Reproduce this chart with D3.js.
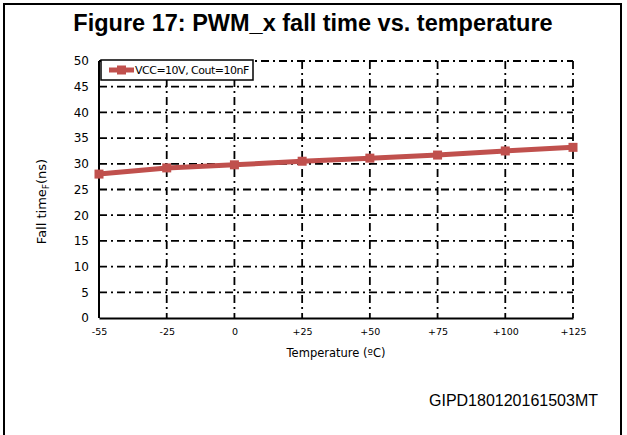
<!DOCTYPE html>
<html>
<head>
<meta charset="utf-8">
<script src="https://cdn.jsdelivr.net/npm/d3@7"></script>
<style>
  body { margin: 0; background: #fff; }
  text { fill: #000; }
</style>
</head>
<body>
<svg width="627" height="435"></svg>
<script>
var temps = ["-55", "-25", "0", "+25", "+50", "+75", "+100", "+125"];
var fallTime = [28.0, 29.2, 29.8, 30.5, 31.1, 31.7, 32.5, 33.2];
var yTicks = [0, 5, 10, 15, 20, 25, 30, 35, 40, 45, 50];
var seriesName = "VCC=10V, Cout=10nF";

var svg = d3.select("svg"),
    width = 627,
    height = 435,
    margin = {top: 61, right: 54, bottom: 117, left: 99},
    plotW = width - margin.left - margin.right,
    plotH = height - margin.top - margin.bottom;

// figure frame
svg.append("rect")
    .attr("x", 4).attr("y", 4)
    .attr("width", 617).attr("height", 440)
    .attr("fill", "none").attr("stroke", "#000").attr("stroke-width", 2);

svg.append("text")
    .attr("x", 313).attr("y", 31)
    .attr("text-anchor", "middle")
    .style("font", "bold 23.5px 'Liberation Sans', Arial, sans-serif")
    .text("Figure 17: PWM_x fall time vs. temperature");

var x = d3.scalePoint().domain(temps).range([0, plotW]);
var y = d3.scaleLinear().domain([0, 50]).range([plotH, 0]);

var g = svg.append("g").attr("transform", "translate(" + margin.left + "," + margin.top + ")");

var dash = "8,4,2,4";

// horizontal grid
g.append("g").selectAll("line")
    .data(yTicks.filter(function(d) { return d > 0; }))
    .enter().append("line")
    .attr("x1", 0).attr("x2", plotW)
    .attr("y1", function(d) { return y(d); })
    .attr("y2", function(d) { return y(d); })
    .attr("stroke", "#000").attr("stroke-width", 1.8)
    .attr("stroke-dasharray", dash);

// vertical grid
g.append("g").selectAll("line")
    .data(temps.slice(1))
    .enter().append("line")
    .attr("x1", function(d) { return x(d); })
    .attr("x2", function(d) { return x(d); })
    .attr("y1", 0).attr("y2", plotH)
    .attr("stroke", "#000").attr("stroke-width", 1.8)
    .attr("stroke-dasharray", dash);

// axes
var yAxis = g.append("g").call(d3.axisLeft(y).tickValues(yTicks).tickSize(0).tickPadding(10));
var xAxis = g.append("g").attr("transform", "translate(0," + plotH + ")")
    .call(d3.axisBottom(x).tickSize(0).tickPadding(10));
[yAxis, xAxis].forEach(function(a) {
  a.select(".domain").attr("stroke", "#000").attr("stroke-width", 2);
  a.selectAll("text").style("font", "11px 'DejaVu Sans', Verdana, sans-serif").attr("fill", "#000");
});
yAxis.select(".domain").attr("d", "M0," + plotH + "V0");
xAxis.selectAll("text").style("font-size", "9.5px");
yAxis.selectAll("text").style("font-size", "12px");

// axis titles
g.append("text")
    .attr("x", plotW / 2).attr("y", plotH + 39)
    .attr("text-anchor", "middle")
    .style("font", "11.5px 'DejaVu Sans', Verdana, sans-serif")
    .text("Temperature (ºC)");

var yt = g.append("text")
    .attr("transform", "translate(-53," + (plotH / 2 + 12) + ") rotate(-90)")
    .attr("text-anchor", "middle")
    .style("font", "13px 'DejaVu Sans', Verdana, sans-serif");
yt.append("tspan").text("Fall time");
yt.append("tspan").attr("dy", 3).style("font-size", "9px").text("F");
yt.append("tspan").attr("dy", -3).text("(ns)");

// series
var color = "#C0504D";
g.append("path")
    .datum(fallTime)
    .attr("fill", "none").attr("stroke", color).attr("stroke-width", 5)
    .attr("d", d3.line()
        .x(function(d, i) { return x(temps[i]); })
        .y(function(d) { return y(d); }));

g.append("g").selectAll("rect")
    .data(fallTime)
    .enter().append("rect")
    .attr("x", function(d, i) { return x(temps[i]) - 4.5; })
    .attr("y", function(d) { return y(d) - 4.5; })
    .attr("width", 9).attr("height", 9)
    .attr("fill", color);

// legend
var lg = g.append("g").attr("transform", "translate(2,-1)");
lg.append("rect")
    .attr("width", 152).attr("height", 20)
    .attr("fill", "#fff").attr("stroke", "#000").attr("stroke-width", 1.5);
lg.append("line")
    .attr("x1", 8).attr("x2", 33).attr("y1", 10).attr("y2", 10)
    .attr("stroke", color).attr("stroke-width", 5);
lg.append("rect")
    .attr("x", 16).attr("y", 5.5).attr("width", 9).attr("height", 9).attr("fill", color);
lg.append("text")
    .attr("x", 34).attr("y", 14)
    .style("font", "11px 'DejaVu Sans', Verdana, sans-serif")
    .style("letter-spacing", "-0.5px")
    .text(seriesName);

svg.append("text")
    .attr("x", 598).attr("y", 406)
    .attr("text-anchor", "end")
    .style("font", "16px 'Liberation Sans', Arial, sans-serif")
    .text("GIPD180120161503MT");
</script>
</body>
</html>
